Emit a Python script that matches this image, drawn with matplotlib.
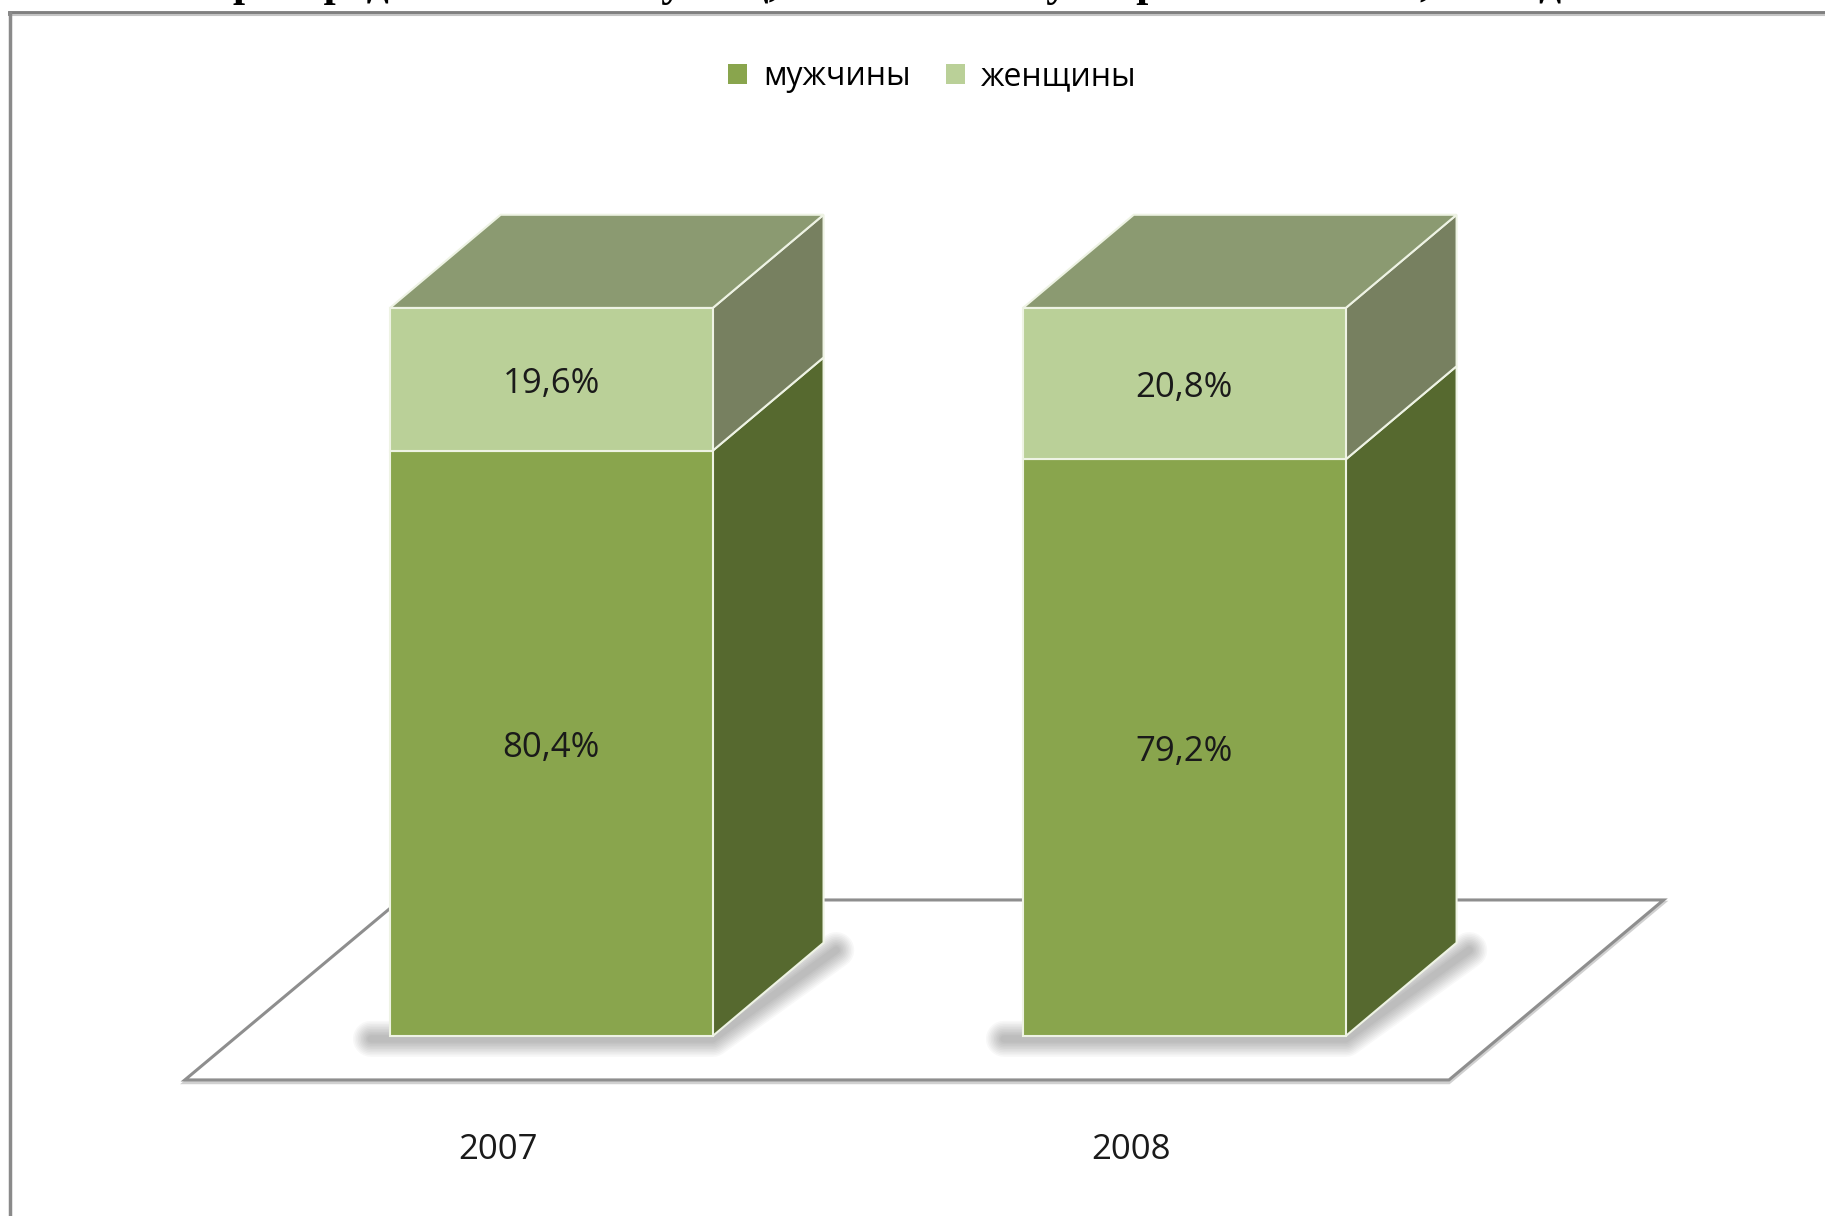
import matplotlib.pyplot as plt
from matplotlib.patches import Polygon, Patch
from matplotlib.lines import Line2D

years = ['2007', '2008']
men = [80.4, 79.2]
women = [19.6, 20.8]
series = ['мужчины', 'женщины']
value_labels_men = ['80,4%', '79,2%']
value_labels_women = ['19,6%', '20,8%']
title = 'распределение по полу лиц, отмечавших употребление ПАВ, по годам'

# colours
c_men = '#89a54d'
c_women = '#bad098'
c_men_side = '#56692f'
c_women_side = '#778060'
c_top = '#8b9a71'
c_edge = '#eef3e4'

# 3d look
bar_w = 0.51
dx, dy = 0.175, 12.8

fig = plt.figure(figsize=(18.25, 12.16), dpi=100)
fig.set_facecolor('white')
ax = fig.add_axes([0, 0, 1, 1])
ax.set_xlim(-0.871, 2.012)
ax.set_ylim(-24.73, 142.3)
ax.axis('off')

x = list(range(len(years)))

# floor
floor = [(-0.579, -6.04), (1.418, -6.04), (1.757, 18.68), (-0.239, 18.68)]
ax.add_patch(Polygon([(a, b - 0.35) for a, b in floor], closed=True, fill=False,
                     edgecolor='#d0d0d0', lw=2.5, zorder=1))
ax.add_patch(Polygon(floor, closed=True, facecolor='white', edgecolor='#8e8e8e',
                     lw=2.2, zorder=1))

for i in x:
    xl, xr = i - bar_w / 2, i + bar_w / 2
    total = men[i] + women[i]
    # soft shadow under each bar
    for k in range(10):
        lw = 26 - 2.3 * k
        ax.plot([xl - 0.03, xr, xr + dx + 0.02], [-0.4, -0.4, dy - 1.0],
                color='black', lw=lw, alpha=0.028, solid_capstyle='round',
                solid_joinstyle='round', zorder=2)
    # right side faces
    ax.add_patch(Polygon([(xr, 0), (xr + dx, dy), (xr + dx, men[i] + dy), (xr, men[i])],
                         closed=True, facecolor=c_men_side, edgecolor=c_edge, lw=1.5, zorder=3))
    ax.add_patch(Polygon([(xr, men[i]), (xr + dx, men[i] + dy), (xr + dx, total + dy), (xr, total)],
                         closed=True, facecolor=c_women_side, edgecolor=c_edge, lw=1.5, zorder=3))
    # top face
    ax.add_patch(Polygon([(xl, total), (xl + dx, total + dy), (xr + dx, total + dy), (xr, total)],
                         closed=True, facecolor=c_top, edgecolor=c_edge, lw=1.5, zorder=3))

# front faces
ax.bar(x, men, width=bar_w, color=c_men, edgecolor=c_edge, lw=1.5, zorder=4)
ax.bar(x, women, width=bar_w, bottom=men, color=c_women, edgecolor=c_edge, lw=1.5, zorder=4)

for i in x:
    ax.text(i, men[i] / 2 - 0.6, value_labels_men[i], ha='center', va='center',
            fontsize=25, family='Open Sans', color='#1a1a1a', zorder=5)
    ax.text(i, men[i] + women[i] / 2 - 0.6, value_labels_women[i], ha='center', va='center',
            fontsize=25, family='Open Sans', color='#1a1a1a', zorder=5)
    ax.text(i - 0.085, -15.7, years[i], ha='center', va='center',
            fontsize=25, family='Open Sans', color='#1a1a1a')

handles = [Patch(facecolor=c_men, edgecolor='none'), Patch(facecolor=c_women, edgecolor='none')]
fig.legend(handles, series, loc='center', bbox_to_anchor=(0.511, 0.937), ncol=2, frameon=False,
           prop={'family': 'Open Sans', 'size': 23}, handlelength=0.6, handleheight=0.6,
           handletextpad=0.5, columnspacing=1.1)

# frame of the embedded chart
fig.add_artist(Line2D([0.0055, 1], [0.9895, 0.9895], color='#7f7f7f', lw=3.5))
fig.add_artist(Line2D([0.0055, 1], [0.9875, 0.9875], color='#c4c4c4', lw=1.5))
fig.add_artist(Line2D([0.0055, 0.0055], [0, 0.9895], color='#8a8a8a', lw=2.5))

# title of the document, only its lowest part is inside the picture
fig.text(233 / 1825, 1 + 4 / 1216, title, ha='left', va='baseline', fontsize=31.5,
         family='Liberation Serif', weight='bold', color='black')

fig.savefig('out.png', dpi=100, facecolor=fig.get_facecolor())
